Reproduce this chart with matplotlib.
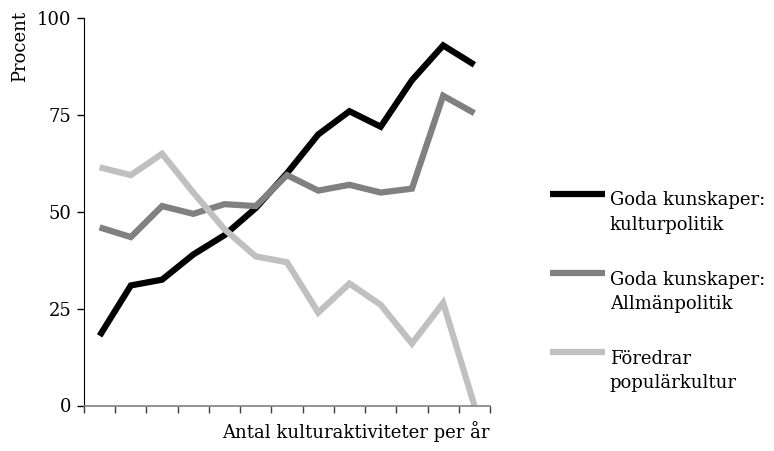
"""
Kunskaper och kulturpreferens efter antal kulturaktiviteter
"""

import matplotlib
matplotlib.use('Agg')
import matplotlib.pyplot as plt
from matplotlib.legend_handler import HandlerLine2D

# kategorier på x-axeln (ingen etikett visas)
kategorier = list(range(1, 14))

kulturpolitik = [18, 31, 32.5, 39, 44, 51, 60, 70, 76, 72, 84, 93, 88]
allmanpolitik = [46, 43.5, 51.5, 49.5, 52, 51.5, 59.5, 55.5, 57, 55, 56, 80, 75.5]
popularkultur = [61.5, 59.5, 65, 55, 45.5, 38.5, 37, 24, 31.5, 26, 16, 26.5, 0]

etiketter = ['Goda kunskaper:\nkulturpolitik',
             'Goda kunskaper:\nAllmänpolitik',
             'Föredrar\npopulärkultur']
farger = ['#000000', '#808080', '#c0c0c0']

yticks = [0, 25, 50, 75, 100]

plt.rcParams['font.family'] = ['DejaVu Serif']
fs = 13


class HandlerUpp(HandlerLine2D):
    # flytta linjen i förklaringen upp till första textraden
    def create_artists(self, legend, orig_handle, xdescent, ydescent,
                       width, height, fontsize, trans):
        return super().create_artists(legend, orig_handle, xdescent, ydescent,
                                      width, height + 28, fontsize, trans)


fig = plt.figure(figsize=(7.74, 4.51), dpi=100)
ax = fig.add_axes([84/774, 1-405.5/451, (490-84)/774, (405.5-18.3)/451])

for serie, lab, c in zip([kulturpolitik, allmanpolitik, popularkultur], etiketter, farger):
    ax.plot(kategorier, serie, color=c, lw=4.5, label=lab,
            solid_capstyle='butt', solid_joinstyle='miter')

ax.set_xlim(0.5, 13.5)
ax.set_ylim(0, 100)
ax.set_yticks(yticks)
ax.set_yticklabels([str(v) for v in yticks], fontsize=fs)
ax.set_xticks([k - 0.5 for k in kategorier] + [13.5])
ax.set_xticklabels([])
ax.tick_params(axis='y', direction='out', length=5, width=1, pad=4)
ax.tick_params(axis='x', direction='out', length=5, width=1, color='#404040')

ax.spines['top'].set_visible(False)
ax.spines['right'].set_visible(False)
ax.spines['bottom'].set_color('#808080')
ax.spines['bottom'].set_linewidth(1.2)

ax.set_xlabel('Antal kulturaktiviteter per år', fontsize=fs, loc='right', labelpad=3)
fig.text(20/774, 1-11/451, 'Procent', rotation=90, fontsize=fs, ha='center', va='top')

leg = ax.legend(loc='upper left', bbox_to_anchor=(534/774, 1-175/451),
                bbox_transform=fig.transFigure, frameon=False, fontsize=fs,
                handlelength=3.05, handletextpad=0.25, labelspacing=2.05,
                handler_map={plt.Line2D: HandlerUpp()})
for t in leg.get_texts():
    t.set_linespacing(1.45)

fig.savefig('out.png', dpi=100)
